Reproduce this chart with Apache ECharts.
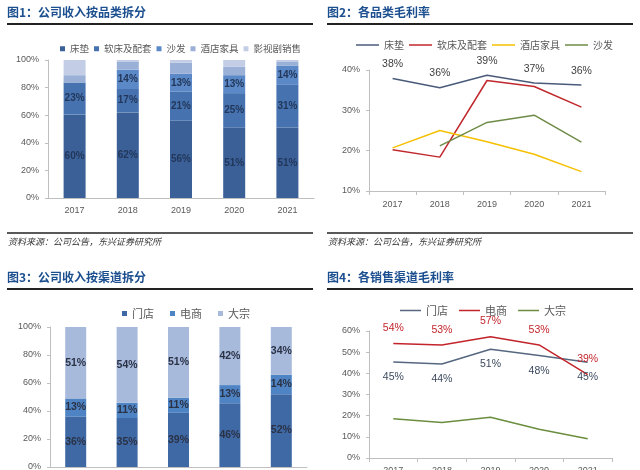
<!DOCTYPE html>
<html><head><meta charset="utf-8">
<script src="https://cdn.jsdelivr.net/npm/echarts@6/dist/echarts.min.js"></script>
<style>
html,body{margin:0;padding:0;background:#fff;width:640px;height:470px;overflow:hidden}
.p{position:absolute}
</style></head><body>
<div id="c1" class="p" style="left:0;top:0;width:320px;height:260px"></div>
<div id="c2" class="p" style="left:320px;top:0;width:320px;height:260px"></div>
<div id="c3" class="p" style="left:0;top:260px;width:320px;height:210px"></div>
<div id="c4" class="p" style="left:320px;top:260px;width:320px;height:210px"></div>
<script>
// ---- data ----
const years = ['2017', '2018', '2019', '2020', '2021'];
// Fig 1: revenue by category (%)
const cat1Names = ['床垫', '软床及配套', '沙发', '酒店家具', '影视剧销售'];
const revMattress = [60.4, 62, 56, 51, 51];
const revSoftBed = [23.3, 17, 21, 25, 31];
const revSofa = [0, 14, 13, 13, 14];
const revHotel = [5.3, 6, 8, 6, 3];
const revFilm = [11, 1, 2, 5, 1];
// Fig 2: gross margin by category (%)
const cat2Names = ['床垫', '软床及配套', '酒店家具', '沙发'];
const gmMattress = [37.9, 35.6, 38.7, 36.8, 36.3];
const gmSoftBed = [20.2, 18.4, 37.4, 35.9, 30.8];
const gmHotel = [20.7, 25.0, 22.2, 19.1, 14.8];
const gmSofa = [null, 21.2, 27.0, 28.8, 22.1];
// Fig 3: revenue by channel (%)
const chNames = ['门店', '电商', '大宗'];
const chStore = [36, 35, 38.7, 45.6, 52];
const chOnline = [13, 11, 10.8, 12.9, 14];
const chBulk = [51, 54, 50.5, 41.5, 34];
// Fig 4: gross margin by channel (%)
const gmStore = [45.4, 44.4, 51.4, 48.4, 45.2];
const gmOnline = [54.1, 53.4, 57.3, 53.4, 39.4];
const gmBulk = [18.5, 16.8, 19.3, 13.6, 9.1];

// ---- shared styles ----
const FF = '"Liberation Sans", "Noto Sans CJK SC", sans-serif';
const CJK = '"Noto Sans CJK SC", "Liberation Sans", sans-serif';
const AX = '#bfbfbf', TXT = '#595959';
const pct = v => v + '%';
const roundPct = p => (p.value ? Math.round(p.value) + '%' : '');

function deco(title, titleY, lineY, withSource) {
  const g = [
    { type: 'text', x: 7, y: titleY, style: { text: title, font: 'bold 12px ' + CJK, fill: '#1c4f8f', verticalAlign: 'middle' } },
    { type: 'line', shape: { x1: 7, y1: lineY, x2: 313, y2: lineY }, style: { stroke: '#222', lineWidth: 2 } }
  ];
  if (withSource) {
    g.push({ type: 'line', shape: { x1: 7, y1: 233, x2: 313, y2: 233 }, style: { stroke: '#222', lineWidth: 1.5 } });
    g.push({ type: 'text', x: 8, y: 242, style: { text: '资料来源：公司公告，东兴证券研究所', font: 'italic 9px ' + CJK, fill: '#333', verticalAlign: 'middle' } });
  }
  return g;
}
function grid(l, r, t, b) {
  return { left: l, right: r, top: t, bottom: b, containLabel: false, outerBoundsMode: 'none' };
}
function xAx(margin, ticks) {
  return { type: 'category', data: years, boundaryGap: true,
    axisLine: { lineStyle: { color: AX } },
    axisTick: { show: ticks, length: 4, lineStyle: { color: AX } },
    axisLabel: { fontSize: 9, color: TXT, margin: margin } };
}
function yAx(min, max, interval) {
  return { type: 'value', min: min, max: max, interval: interval,
    axisLine: { show: true, lineStyle: { color: AX } },
    axisTick: { show: true, length: 3, lineStyle: { color: AX } },
    splitLine: { show: false },
    axisLabel: { formatter: pct, fontSize: 9, color: TXT, margin: 9 } };
}

// ---- Fig 1 ----
const c1Colors = ['#3b6098', '#4673af', '#5b88c6', '#9bb0d7', '#c3cee6'];
const rev1 = [revMattress, revSoftBed, revSofa, revHotel, revFilm];
const c1 = echarts.init(document.getElementById('c1'));
c1.setOption({
  animation: false, textStyle: { fontFamily: FF },
  graphic: deco('图1：公司收入按品类拆分', 12, 24, true),
  legend: { left: 55, top: 39, icon: 'rect', itemWidth: 5, itemHeight: 5, itemGap: 5,
    textStyle: { fontSize: 9.5, color: TXT, fontFamily: CJK }, data: cat1Names },
  grid: grid(48, 6, 60, 62),
  xAxis: xAx(8, false),
  yAxis: yAx(0, 100, 20),
  series: cat1Names.map((n, i) => ({
    name: n, type: 'bar', stack: 's', barWidth: 22, data: rev1[i],
    itemStyle: { color: c1Colors[i] },
    label: { show: i < 3, position: 'inside', formatter: roundPct, fontSize: 10, fontWeight: 'bold', color: '#22375a' }
  }))
});

// ---- Fig 2 ----
const c2Colors = ['#4a5b7a', '#c0282d', '#f5c000', '#6e8b47'];
const gm2 = [gmMattress, gmSoftBed, gmHotel, gmSofa];
const c2 = echarts.init(document.getElementById('c2'));
c2.setOption({
  animation: false, textStyle: { fontFamily: FF },
  graphic: deco('图2：各品类毛利率', 12, 24, true),
  legend: { left: 31, top: 35, icon: 'rect', itemWidth: 23, itemHeight: 1.5, itemGap: 5,
    textStyle: { fontSize: 10, color: TXT, fontFamily: CJK }, data: cat2Names },
  grid: grid(49, 35, 70, 69),
  xAxis: xAx(9, true),
  yAxis: yAx(10, 40, 10),
  series: cat2Names.map((n, i) => ({
    name: n, type: 'line', data: gm2[i], symbol: 'circle', symbolSize: 0.01,
    lineStyle: { color: c2Colors[i], width: 1.5 }, itemStyle: { color: c2Colors[i] },
    label: { show: i === 0, position: 'top', distance: 9, formatter: roundPct, fontSize: 10.5, color: '#404040' }
  }))
});

// ---- Fig 3 ----
const c3Colors = ['#3f69a5', '#4f84c4', '#a8badc'];
const ch3 = [chStore, chOnline, chBulk];
const c3 = echarts.init(document.getElementById('c3'));
c3.setOption({
  animation: false, textStyle: { fontFamily: FF },
  graphic: deco('图3：公司收入按渠道拆分', 17, 29, false),
  legend: { left: 117, top: 43, icon: 'rect', itemWidth: 5, itemHeight: 5, itemGap: 16,
    textStyle: { fontSize: 11, color: TXT, fontFamily: CJK }, data: chNames },
  grid: grid(50, 13, 67, 3),
  xAxis: xAx(8, false),
  yAxis: yAx(0, 100, 20),
  series: chNames.map((n, i) => ({
    name: n, type: 'bar', stack: 's', barWidth: 21, data: ch3[i],
    itemStyle: { color: c3Colors[i] },
    label: { show: true, position: 'inside', formatter: roundPct, fontSize: 10.5, fontWeight: 'bold', color: '#2a3246' }
  }))
});

// ---- Fig 4 ----
const c4Colors = ['#566780', '#c3242b', '#6b8e3e'];
const gm4 = [gmStore, gmOnline, gmBulk];
const c4LabelPos = ['bottom', 'top', 'top'];
const c4LabelColor = ['#3c4a5e', '#c3242b', '#6b8e3e'];
const c4 = echarts.init(document.getElementById('c4'));
c4.setOption({
  animation: false, textStyle: { fontFamily: FF },
  graphic: deco('图4：各销售渠道毛利率', 17, 29, false),
  legend: { left: 75, top: 40, icon: 'rect', itemWidth: 21, itemHeight: 1.5, itemGap: 11,
    textStyle: { fontSize: 11, color: TXT, fontFamily: CJK }, data: chNames },
  grid: grid(49, 28, 71, 12),
  xAxis: xAx(8, true),
  yAxis: yAx(0, 60, 10),
  series: chNames.map((n, i) => ({
    name: n, type: 'line', data: gm4[i], symbol: 'circle', symbolSize: 0.01,
    lineStyle: { color: c4Colors[i], width: 1.5 }, itemStyle: { color: c4Colors[i] },
    label: { show: i < 2, position: c4LabelPos[i], distance: 10, formatter: roundPct, fontSize: 10.5, color: c4LabelColor[i] }
  }))
});
</script>
</body></html>
